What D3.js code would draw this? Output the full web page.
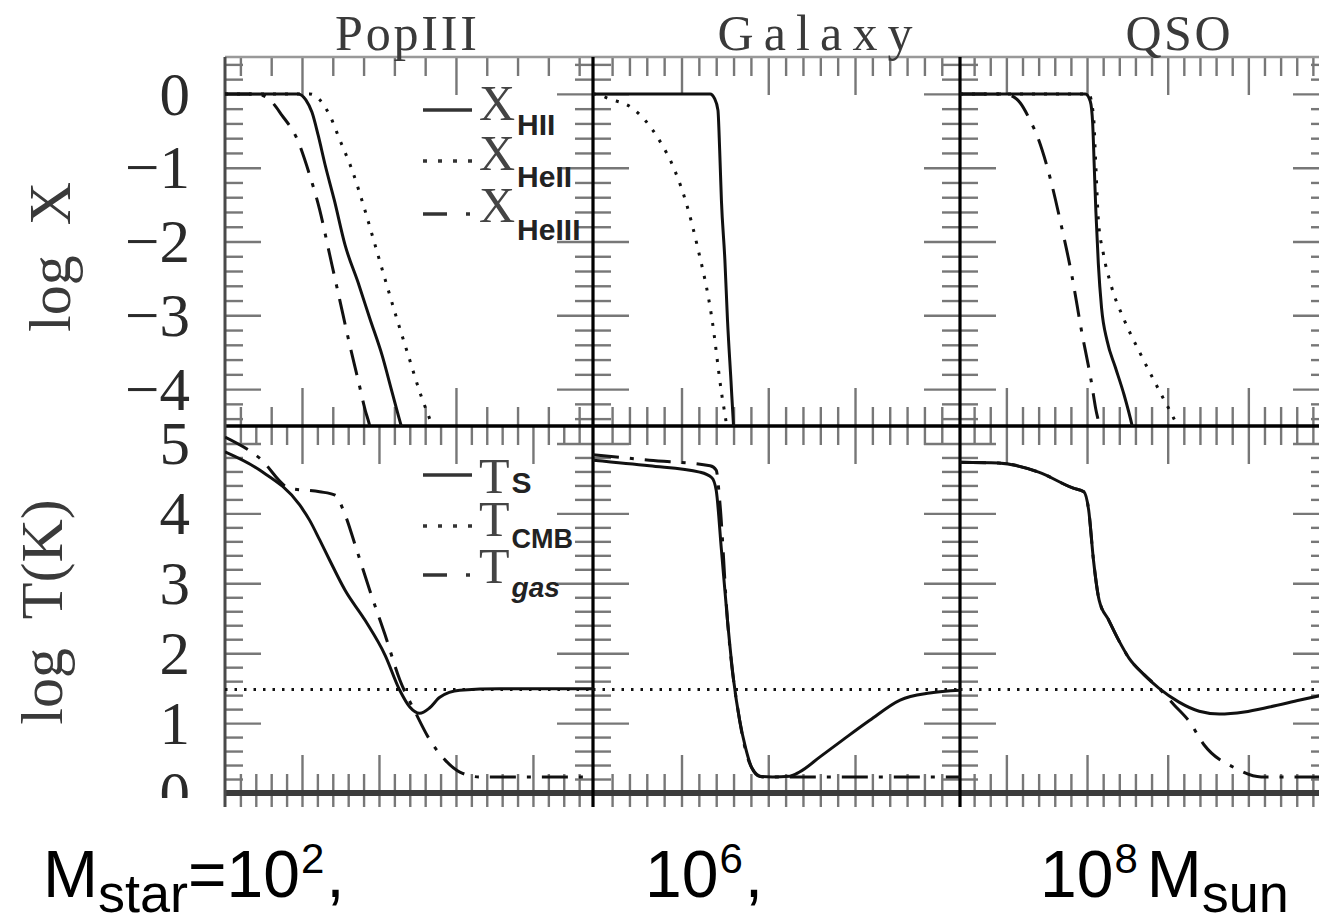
<!DOCTYPE html>
<html>
<head>
<meta charset="utf-8">
<script src="https://cdn.jsdelivr.net/npm/d3@7"></script>
<style>
  html, body { margin: 0; padding: 0; background: #fff; overflow: hidden; }
  svg { display: block; }
  .serif { font-family: "Liberation Serif", "DejaVu Serif", serif; }
  .sans { font-family: "Liberation Sans", Arial, sans-serif; }
</style>
</head>
<body>
<svg id="chart" width="1319" height="922"></svg>
<script>
// ---- data -------------------------------------------------------------
const titles = ["PopIII", "Galaxy", "QSO"];

// x extent of each column (distance units set by the major tick spacing)
const xDomains = [[0, 4.78], [-0.02, 4.21], [-0.575, 4.0]];
const yDomainIon = [-4.5, 0.5];
const yDomainTemp = [0, 5.25];

const ionTickLabels = [0, -1, -2, -3, -4];
const tempTickLabels = [0, 1, 2, 3, 4, 5];

// major x ticks: [column][row]
const xMajorTicks = [
  [[1, 3], [0, 1, 2, 3, 4]],
  [[1, 2, 3], [1, 2, 3]],
  [[0, 1, 2, 3], [0, 1, 2, 3]]
];

// log X_HII
const xHII = [
  [[0, 0], [0.95, 0], [1.05, -0.08], [1.13, -0.25], [1.21, -0.56], [1.30, -0.96], [1.42, -1.44],
   [1.56, -2.05], [1.73, -2.56], [1.88, -3.04], [2.04, -3.54], [2.17, -4.04], [2.29, -4.5], [2.35, -4.7]],
  [[-0.02, 0], [1.33, 0], [1.38, -0.06], [1.42, -0.22], [1.44, -0.76], [1.46, -1.44], [1.50, -2.25],
   [1.53, -3.06], [1.57, -3.88], [1.60, -4.5], [1.62, -4.8]],
  [[-0.575, 0], [0.98, 0], [1.04, -0.10], [1.07, -0.40], [1.09, -1.0], [1.11, -1.6], [1.14, -2.3],
   [1.18, -2.9], [1.25, -3.35], [1.35, -3.7], [1.46, -4.08], [1.56, -4.5], [1.60, -4.7]]
];
// log X_HeII
const xHeII = [
  [[0, 0], [1.10, 0], [1.23, -0.08], [1.36, -0.29], [1.49, -0.62], [1.65, -1.03], [1.81, -1.55],
   [1.95, -2.05], [2.09, -2.55], [2.23, -3.04], [2.38, -3.54], [2.53, -4.04], [2.69, -4.5], [2.75, -4.7]],
  [[-0.02, 0], [0.05, -0.01], [0.15, -0.06], [0.43, -0.19], [0.73, -0.60], [0.92, -1.03], [1.06, -1.5],
   [1.18, -2.05], [1.35, -3.04], [1.46, -4.04], [1.52, -4.5], [1.55, -4.8]],
  [[-0.575, 0], [1.02, 0], [1.08, -0.3], [1.11, -1.0], [1.14, -1.7], [1.20, -2.15], [1.30, -2.6],
   [1.46, -3.06], [1.67, -3.54], [1.89, -4.01], [2.12, -4.5], [2.2, -4.7]]
];
// log X_HeIII (not present for the galaxy spectrum)
const xHeIII = [
  [[0, 0], [0.40, 0], [0.56, -0.06], [0.74, -0.29], [0.94, -0.62], [1.10, -1.10], [1.23, -1.57],
   [1.36, -2.18], [1.49, -2.79], [1.62, -3.40], [1.73, -3.88], [1.82, -4.28], [1.88, -4.5], [1.92, -4.7]],
  null,
  [[-0.575, 0], [-0.04, 0], [0.09, -0.04], [0.17, -0.12], [0.29, -0.35], [0.40, -0.62], [0.55, -1.17],
   [0.68, -1.78], [0.81, -2.45], [0.93, -3.20], [1.05, -3.88], [1.11, -4.28], [1.15, -4.5], [1.17, -4.7]]
];

// log T_S (spin temperature)
const tSpin = [
  [[0, 4.88], [0.45, 4.62], [0.97, 4.12], [1.10, 3.90], [1.23, 3.62], [1.36, 3.33], [1.56, 2.90],
   [1.82, 2.47], [2.08, 1.97], [2.27, 1.47], [2.40, 1.23], [2.53, 1.14], [2.66, 1.22], [2.79, 1.37],
   [3.05, 1.47], [3.57, 1.49], [4.78, 1.49]],
  [[-0.02, 4.76], [0.63, 4.68], [1.21, 4.59], [1.35, 4.51], [1.40, 4.33], [1.46, 3.48], [1.53, 2.47],
   [1.60, 1.62], [1.67, 1.04], [1.74, 0.64], [1.81, 0.36], [1.90, 0.24], [2.05, 0.23], [2.25, 0.24],
   [2.36, 0.30], [2.60, 0.52], [2.86, 0.76], [3.17, 1.04], [3.52, 1.33], [3.86, 1.43], [4.21, 1.47]],
  [[-0.575, 4.73], [-0.10, 4.72], [0.40, 4.59], [0.83, 4.36], [0.96, 4.31], [1.02, 4.05], [1.08, 3.33],
   [1.15, 2.76], [1.27, 2.47], [1.39, 2.19], [1.52, 1.93], [1.71, 1.69], [1.89, 1.50], [2.14, 1.30],
   [2.39, 1.17], [2.64, 1.13], [2.95, 1.16], [3.26, 1.23], [3.64, 1.33], [4.0, 1.42]]
];
// log T_gas
const tGas = [
  [[0, 5.09], [0.45, 4.79], [0.84, 4.36], [1.23, 4.31], [1.43, 4.26], [1.56, 3.98], [1.69, 3.55],
   [1.88, 2.90], [2.08, 2.26], [2.27, 1.62], [2.47, 1.16], [2.66, 0.76], [2.86, 0.47], [3.05, 0.30],
   [3.31, 0.23], [4.78, 0.23]],
  [[-0.02, 4.84], [0.63, 4.76], [1.33, 4.68], [1.40, 4.62], [1.44, 4.19], [1.53, 2.47], [1.67, 1.04],
   [1.81, 0.36], [1.93, 0.23], [4.21, 0.23]],
  [[-0.575, 4.73], [-0.10, 4.72], [0.40, 4.59], [0.83, 4.36], [0.96, 4.31], [1.02, 4.05], [1.08, 3.33],
   [1.15, 2.76], [1.27, 2.47], [1.39, 2.19], [1.52, 1.93], [1.71, 1.69], [1.89, 1.50], [2.08, 1.26],
   [2.27, 1.02], [2.45, 0.69], [2.83, 0.36], [3.16, 0.23], [4.0, 0.23]]
];
// log T_CMB
const tCMB = [1.48, 1.48, 1.48];

const ionLegend = [
  { label: "X", sub: "HII", dash: null },
  { label: "X", sub: "HeII", dash: "dot" },
  { label: "X", sub: "HeIII", dash: "dashdot" }
];
const tempLegend = [
  { label: "T", sub: "S", dash: null },
  { label: "T", sub: "CMB", dash: "dot" },
  { label: "T", sub: "gas", dash: "dashdot" }
];

// ---- layout -----------------------------------------------------------
const svg = d3.select("#chart");
const colX = [[225, 593], [593, 960], [960, 1329]];
const rowY = [[57, 426], [426, 793]];

const xScales = xDomains.map((d, i) => d3.scaleLinear().domain(d).range(colX[i]));
const yIon = d3.scaleLinear().domain(yDomainIon).range([rowY[0][1], rowY[0][0]]);
const yTemp = d3.scaleLinear().domain(yDomainTemp).range([rowY[1][1], rowY[1][0]]);
const yScales = [yIon, yTemp];

const dashes = { dot: "3,9", dashdot: "26,11,4,11", cmb: "2.5,7" };
const TICK = "#777";

const defs = svg.append("defs");
for (let c = 0; c < 3; c++) {
  for (let r = 0; r < 2; r++) {
    defs.append("clipPath").attr("id", `clip-${c}-${r}`)
      .append("rect")
      .attr("x", colX[c][0]).attr("y", rowY[r][0])
      .attr("width", colX[c][1] - colX[c][0]).attr("height", rowY[r][1] - rowY[r][0]);
  }
}
defs.append("clipPath").attr("id", "clip-below")
  .append("rect").attr("x", 0).attr("y", 0).attr("width", 1319).attr("height", 807);
defs.append("clipPath").attr("id", "clip-labels")
  .append("rect").attr("x", -225).attr("y", 0).attr("width", 225).attr("height", 798);

// ---- ticks ------------------------------------------------------------
function styleAxis(g) {
  g.select(".domain").remove();
  g.selectAll(".tick text").remove();
  g.selectAll(".tick line").attr("stroke", TICK).attr("stroke-width", 2.4);
}

const tickGroup = svg.append("g").attr("clip-path", "url(#clip-below)");

for (let c = 0; c < 3; c++) {
  const xs = xScales[c];
  const [dx0, dx1] = xDomains[c];
  for (let r = 0; r < 2; r++) {
    const ys = yScales[r];
    const [top, bottom] = rowY[r];
    const [left, right] = colX[c];
    const majors = xMajorTicks[c][r];
    // minor x ticks: every 0.4 in the first column of the upper row, 0.2 elsewhere
    let minors;
    if (c === 0 && r === 0) minors = d3.range(0.2, dx1, 0.4);
    else minors = d3.range(Math.ceil(dx0 / 0.2) * 0.2, dx1 - 0.01, 0.2);
    minors = minors.filter(v => v > dx0 + 0.03 && v < dx1 - 0.03 &&
      !majors.some(m => Math.abs(m - v) < 0.05));
    const xMaj = majors.filter(v => v > dx0 + 0.03 && v < dx1 - 0.03);

    // top edge (ticks point down) and bottom edge (ticks point up)
    tickGroup.append("g").attr("transform", `translate(0,${top})`)
      .call(d3.axisBottom(xs).tickValues(minors).tickSizeOuter(0).tickSizeInner(19)).call(styleAxis);
    tickGroup.append("g").attr("transform", `translate(0,${top})`)
      .call(d3.axisBottom(xs).tickValues(xMaj).tickSizeOuter(0).tickSizeInner(38)).call(styleAxis);
    tickGroup.append("g").attr("transform", `translate(0,${bottom})`)
      .call(d3.axisTop(xs).tickValues(minors).tickSizeOuter(0).tickSizeInner(19)).call(styleAxis);
    tickGroup.append("g").attr("transform", `translate(0,${bottom})`)
      .call(d3.axisTop(xs).tickValues(xMaj).tickSizeOuter(0).tickSizeInner(38)).call(styleAxis);
    if (r === 1) {
      tickGroup.append("g").attr("transform", `translate(0,${bottom})`)
        .call(d3.axisBottom(xs).tickValues(minors.concat(xMaj)).tickSizeOuter(0).tickSizeInner(19)).call(styleAxis);
    }

    // y ticks
    const [dy0, dy1] = ys.domain();
    const yMaj = d3.range(Math.ceil(dy0), Math.floor(dy1) + 1).filter(v => v > dy0 + 0.05 && v < dy1 - 0.05);
    const yMin = d3.range(Math.ceil(dy0 / 0.2 + 1e-6) * 0.2, dy1 - 0.01, 0.2)
      .filter(v => v > dy0 + 0.05 && v < dy1 - 0.05 && !yMaj.some(m => Math.abs(m - v) < 0.05));
    tickGroup.append("g").attr("transform", `translate(${left},0)`)
      .call(d3.axisRight(ys).tickValues(yMin).tickSizeOuter(0).tickSizeInner(18)).call(styleAxis);
    tickGroup.append("g").attr("transform", `translate(${left},0)`)
      .call(d3.axisRight(ys).tickValues(yMaj).tickSizeOuter(0).tickSizeInner(36)).call(styleAxis);
    tickGroup.append("g").attr("transform", `translate(${right},0)`)
      .call(d3.axisLeft(ys).tickValues(yMin).tickSizeOuter(0).tickSizeInner(18)).call(styleAxis);
    tickGroup.append("g").attr("transform", `translate(${right},0)`)
      .call(d3.axisLeft(ys).tickValues(yMaj).tickSizeOuter(0).tickSizeInner(36)).call(styleAxis);
  }
}

// ---- frame lines ------------------------------------------------------
const frame = svg.append("g");
frame.append("line").attr("x1", 225).attr("x2", 1329).attr("y1", 57).attr("y2", 57)
  .attr("stroke", "#999").attr("stroke-width", 2.5);
frame.append("line").attr("x1", 225).attr("x2", 1329).attr("y1", 426).attr("y2", 426)
  .attr("stroke", "#000").attr("stroke-width", 3.5);
frame.append("line").attr("x1", 225).attr("x2", 1329).attr("y1", 793).attr("y2", 793)
  .attr("stroke", "#3c3c3c").attr("stroke-width", 6);
frame.append("line").attr("x1", 225).attr("x2", 225).attr("y1", 57).attr("y2", 807)
  .attr("stroke", "#4a4a4a").attr("stroke-width", 3);
[593, 960].forEach(x => frame.append("line").attr("x1", x).attr("x2", x).attr("y1", 57).attr("y2", 807)
  .attr("stroke", "#000").attr("stroke-width", 3.2));

// ---- curves -----------------------------------------------------------
function drawCurve(c, r, data, style) {
  if (!data) return;
  const line = d3.line()
    .x(d => xScales[c](d[0]))
    .y(d => yScales[r](d[1]))
    .curve(d3.curveMonotoneX);
  svg.append("path")
    .attr("clip-path", `url(#clip-${c}-${r})`)
    .attr("d", line(data))
    .attr("fill", "none")
    .attr("stroke", "#111")
    .attr("stroke-width", 3)
    .attr("stroke-dasharray", style ? dashes[style] : null);
}

for (let c = 0; c < 3; c++) {
  drawCurve(c, 0, xHeII[c], "dot");
  drawCurve(c, 0, xHeIII[c], "dashdot");
  drawCurve(c, 0, xHII[c], null);
  drawCurve(c, 1, xDomains[c].map(x => [x, tCMB[c]]), "cmb");
  drawCurve(c, 1, tGas[c], "dashdot");
  drawCurve(c, 1, tSpin[c], null);
}

// ---- panel titles -----------------------------------------------------
const titleX = [406, 815, 1178];
const titleLen = [142, 195, 105];
titles.forEach((t, i) => {
  svg.append("text").attr("class", "serif")
    .attr("x", titleX[i]).attr("y", 50)
    .attr("text-anchor", "middle")
    .attr("font-size", 50)
    .attr("fill", "#3a3a3a")
    .attr("textLength", titleLen[i]).attr("lengthAdjust", "spacing")
    .text(t);
});

// ---- y tick labels ----------------------------------------------------
const fmt = d => d < 0 ? "\u2212" + Math.abs(d) : String(d);
const labelAxis = (g, scale, values) => {
  g.call(d3.axisLeft(scale).tickValues(values).tickSize(0).tickPadding(35).tickFormat(fmt));
  g.select(".domain").remove();
  g.selectAll(".tick text")
    .attr("class", "serif")
    .attr("font-size", 61)
    .attr("fill", "#2a2a2a")
    .attr("dy", "0.33em");
};
svg.append("g").attr("transform", "translate(225,0)").attr("clip-path", "url(#clip-labels)")
  .call(labelAxis, yIon, ionTickLabels);
svg.append("g").attr("transform", "translate(225,0)").attr("clip-path", "url(#clip-labels)")
  .call(labelAxis, yTemp, tempTickLabels);

// ---- axis titles ------------------------------------------------------
svg.append("text").attr("class", "serif")
  .attr("transform", "translate(70,257) rotate(-90)")
  .attr("text-anchor", "middle").attr("font-size", 60).attr("fill", "#3a3a3a")
  .style("white-space", "pre")
  .text("log  X");
svg.append("text").attr("class", "serif")
  .attr("transform", "translate(62,612) rotate(-90)")
  .attr("text-anchor", "middle").attr("font-size", 60).attr("fill", "#3a3a3a")
  .style("white-space", "pre")
  .text("log  T(K)");

// ---- legends ----------------------------------------------------------
function legendSample(y, dash) {
  svg.append("line")
    .attr("x1", 423).attr("x2", dash === "dashdot" ? 470 : 472)
    .attr("y1", y).attr("y2", y)
    .attr("stroke", "#333").attr("stroke-width", 3.5)
    .attr("stroke-dasharray", dash === "dot" ? "4,11" : dash === "dashdot" ? "24,19,4,20" : null);
}
function legendEntry(d, p) {
  legendSample(p.line, d.dash);
  const t = svg.append("text").attr("x", 479).attr("y", p.base);
  t.append("tspan").attr("class", "serif").attr("font-size", 50).attr("fill", "#444").text(d.label);
  t.append("tspan").attr("class", "sans").attr("dx", 2).attr("dy", p.sub - p.base)
    .attr("font-size", p.size).attr("font-weight", "bold").attr("font-style", p.style || "normal")
    .attr("fill", "#222").text(d.sub);
}
const ionRows = [{ line: 110, base: 120, sub: 135, size: 30 },
                 { line: 161, base: 170, sub: 187, size: 30 },
                 { line: 214, base: 222, sub: 240, size: 30 }];
ionLegend.forEach((d, i) => legendEntry(d, ionRows[i]));
const tempRows = [{ line: 475, base: 493, sub: 493, size: 30 },
                  { line: 526, base: 536, sub: 548, size: 27 },
                  { line: 575, base: 583, sub: 597, size: 28, style: "italic" }];
tempLegend.forEach((d, i) => legendEntry(d, tempRows[i]));

// ---- stellar masses along the bottom ----------------------------------
const massLabels = [
  { x: 43, parts: [["M", 0, 0, 66], ["star", 0, 15, 54], ["=10", 0, -15, 66], ["2", 1, -24, 42], [",", 2, 24, 66]] },
  { x: 645, parts: [["10", 0, 0, 66], ["6", 1, -24, 42], [",", 2, 24, 66]] },
  { x: 1040, parts: [["10", 0, 0, 66], ["8", 1, -24, 42], ["M", 9, 24, 66], ["sun", 0, 15, 54]] }
];
massLabels.forEach(m => {
  const t = svg.append("text").attr("class", "sans").attr("x", m.x).attr("y", 897).attr("fill", "#000");
  m.parts.forEach(([s, dx, dy, fs]) => {
    t.append("tspan").attr("dx", dx).attr("dy", dy).attr("font-size", fs).text(s);
  });
});
</script>
</body>
</html>
